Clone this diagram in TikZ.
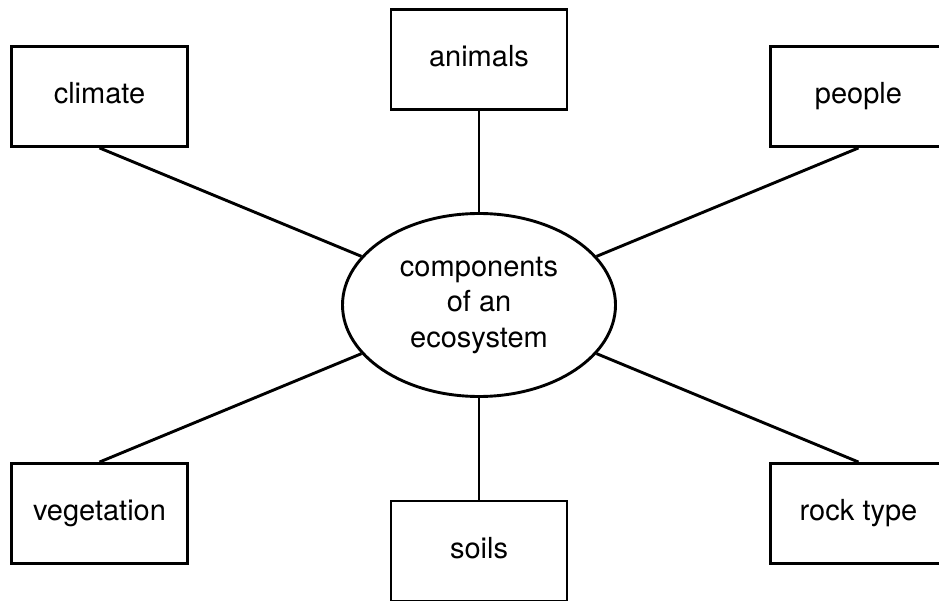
\documentclass[tikz,border=0pt]{standalone}
\usepackage{fontspec}
\setmainfont{TeX Gyre Heros}
\usetikzlibrary{shapes.geometric}

\begin{document}
\begin{tikzpicture}[x=1pt,y=-1pt,
  part/.style={draw,line width=2.9pt,minimum width=176pt,minimum height=100pt,
    inner sep=0pt,text height=0.75em,text depth=0.25em},
  hub/.style={draw,ellipse,line width=2.9pt,minimum width=273pt,minimum height=183pt,
    inner sep=0pt,align=center},
  link/.style={line width=2.9pt}]
\useasboundingbox (0,0) rectangle (939,601);
\clip (0,0) rectangle (939,601);
\fontsize{29}{35.5}\selectfont
% centre
\node[hub] (eco) at (479,305) {components\\of an\\ecosystem};
% boxes round it
\node[part] (climate) at (99.5,96.5) {climate};
\node[part] (animals) at (479,59.5) {animals};
\node[part] (people) at (858.5,96.5) {people};
\node[part] (vegetation) at (99.5,513.5) {vegetation};
\node[part] (soils) at (479,551) {soils};
\node[part] (rocktype) at (858.5,513.5) {rock type};
% spokes
\draw[link] (climate.south) -- (eco);
\draw[link] (animals) -- (eco);
\draw[link] (people.south) -- (eco);
\draw[link] (vegetation.north) -- (eco);
\draw[link] (soils) -- (eco);
\draw[link] (rocktype.north) -- (eco);
\end{tikzpicture}
\end{document}
